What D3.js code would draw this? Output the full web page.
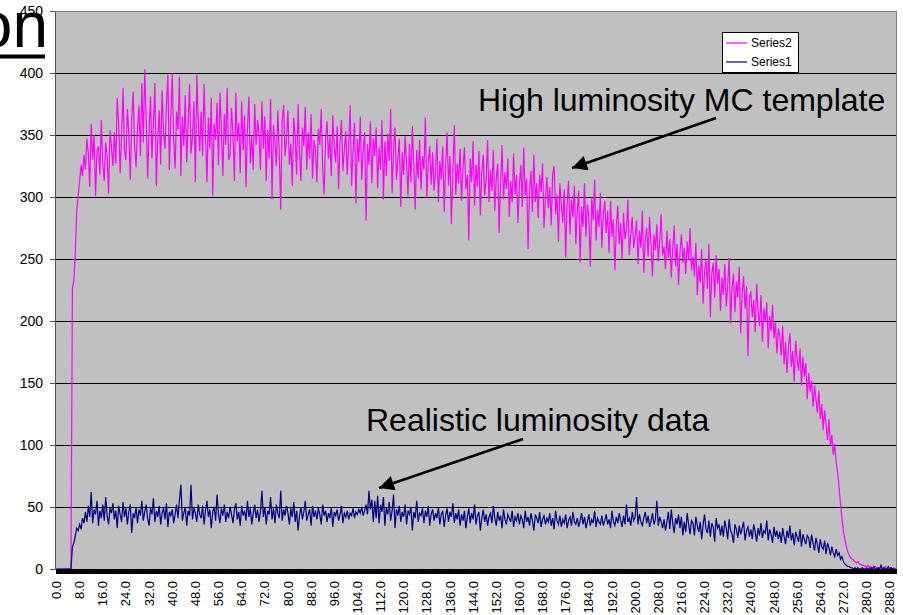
<!DOCTYPE html>
<html>
<head>
<meta charset="utf-8">
<script src="https://d3js.org/d3.v7.min.js"></script>
<style>
  body { margin: 0; background: #fff; }
  text { font-family: "Liberation Sans", Arial, sans-serif; }
</style>
</head>
<body>
<div id="chart"></div>
<script>
// x categories, one every 0.5
var categories = d3.range(0, 581).map(function(i) { return (i / 2).toFixed(1); });

// labelled categories on the x axis
var tickLabels = ["0.0","8.0","16.0","24.0","32.0","40.0","48.0","56.0","64.0","72.0","80.0","88.0",
  "96.0","104.0","112.0","120.0","128.0","136.0","144.0","152.0","160.0","168.0","176.0","184.0",
  "192.0","200.0","208.0","216.0","224.0","232.0","240.0","248.0","256.0","264.0","272.0","280.0","288.0"];

var yTicks = [0, 50, 100, 150, 200, 250, 300, 350, 400, 450];

// Series2 - high luminosity MC template (magenta)
var series2 = [
  0,0,0,0,0,0,0,0,0,0,0,226,233,256,289,301,313,326,317,334,
  322,347,335,308,359,330,350,301,338,341,318,362,327,313,344,333,303,354,340,325,
  352,327,380,358,319,349,388,338,330,371,351,314,362,385,341,324,356,374,333,392,
  344,403,364,315,355,381,331,359,392,309,347,370,326,386,353,339,374,399,322,362,
  400,346,323,369,354,397,317,365,341,382,328,358,391,335,349,377,312,399,361,337,
  369,333,391,352,312,364,339,380,301,359,346,376,326,384,355,317,367,342,388,330,
  334,372,351,313,384,345,360,319,377,338,366,308,355,381,327,349,322,375,342,362,
  350,322,377,339,365,313,354,331,379,298,358,345,325,370,336,290,362,374,333,348,
  370,326,343,309,364,349,318,375,335,313,356,341,373,322,352,331,367,315,346,338,
  312,355,342,371,323,302,347,361,331,349,317,366,340,328,357,306,344,362,321,339,
  353,318,342,374,309,336,360,295,347,328,365,314,338,352,281,343,326,361,311,348,
  333,356,307,340,322,362,298,345,317,351,329,371,303,338,356,314,330,347,292,336,
  318,349,327,301,343,312,357,324,290,338,315,346,306,333,322,364,299,328,341,310,
  336,305,322,347,296,329,314,341,288,325,352,309,333,278,320,358,302,327,311,339,
  297,323,340,306,318,265,331,312,345,293,326,308,337,285,319,334,301,314,346,296,
  322,305,338,289,315,327,271,311,342,298,320,306,331,284,313,296,335,302,318,279,
  309,326,292,340,301,315,258,305,321,288,334,296,311,283,318,304,327,275,299,316,
  291,308,277,318,325,286,302,264,311,294,279,306,251,296,313,270,298,284,309,262,
  288,305,247,292,276,311,268,294,283,244,299,281,314,265,290,276,303,259,286,297,
  271,289,255,297,268,282,241,276,293,262,279,250,287,266,274,298,253,270,284,259,
  268,281,246,273,259,289,239,266,275,252,284,261,236,270,257,278,248,265,286,253,
  260,242,273,251,266,235,258,277,244,262,229,255,270,247,259,238,264,249,275,241,
  252,236,263,221,245,231,258,214,240,249,226,262,203,238,247,219,253,230,242,208,
  235,221,246,212,229,251,198,226,238,207,232,219,244,190,223,236,210,228,172,218,
  224,203,217,191,230,208,196,221,183,210,199,215,178,204,192,213,186,199,174,194,
  188,172,196,165,183,158,179,190,163,176,151,184,169,160,178,148,171,155,166,137,
  158,143,152,131,148,137,126,144,121,133,112,128,116,104,121,99,108,92,101,86,
  78,66,52,41,30,24,18,14,11,9,8,7,6,5,6,4,4,3,3,2,
  2,3,1,2,1,1,2,1,0,1,1,0,1,2,0,1,0,1,0,1,
  0
];

// Series1 - realistic luminosity data (navy)
var series1 = [
  0,0,0,0,0,0,0,0,0,0,0,18,21,27,33,31,36,32,41,37,
  46,38,51,42,62,37,48,44,55,35,47,41,52,39,58,43,36,49,45,53,
  40,47,33,51,44,38,54,42,49,36,46,52,29,45,41,50,37,48,43,55,
  39,46,52,41,35,49,44,57,38,47,42,51,36,45,49,40,53,34,46,43,
  48,37,44,52,41,56,68,39,45,50,35,47,43,68,40,49,45,38,52,44,
  41,51,36,47,55,42,48,33,46,50,39,60,44,37,49,43,52,38,46,41,
  50,44,37,48,53,40,46,35,51,43,47,39,55,42,49,36,45,52,41,48,
  38,46,63,42,50,36,47,44,58,40,49,37,52,45,41,63,39,48,43,51,
  45,36,49,42,54,38,47,31,43,50,40,46,55,39,44,48,35,51,42,47,
  40,49,44,36,52,43,47,38,45,41,50,34,46,43,48,39,44,51,37,45,
  42,47,40,45,43,49,41,46,44,48,45,50,43,47,52,44,63,48,56,38,
  55,41,59,37,52,46,58,35,49,44,54,39,47,60,33,48,43,51,38,46,
  42,52,36,47,44,50,31,46,41,55,38,45,43,49,37,47,42,51,35,44,
  48,39,45,41,50,36,44,47,34,43,49,38,46,42,53,37,45,40,48,35,
  44,39,47,33,42,49,37,45,40,52,36,43,46,31,41,48,38,44,35,42,
  45,37,51,41,35,46,39,43,33,48,40,36,44,41,38,47,34,42,39,45,
  36,43,40,33,47,38,42,35,45,39,31,44,41,37,46,34,40,43,36,41,
  38,45,35,41,32,47,39,36,43,34,40,37,44,33,39,42,35,46,38,36,
  41,34,39,45,36,42,33,38,44,35,40,37,47,34,41,38,36,43,35,39,
  44,36,40,33,47,38,35,42,37,45,39,34,43,36,52,38,41,35,46,39,
  42,58,36,44,38,35,41,46,37,43,34,39,45,36,40,55,35,42,38,33,
  40,31,38,46,32,48,37,29,41,36,44,33,42,27,38,30,45,36,28,39,
  37,27,42,35,30,38,24,36,44,32,29,39,26,37,34,22,41,33,36,27,
  35,26,39,33,24,40,31,28,21,36,32,25,35,28,33,38,23,31,34,26,
  32,24,36,30,22,33,27,37,25,31,29,39,23,32,28,21,34,26,31,24,
  30,21,33,26,20,31,25,35,23,29,19,30,26,22,32,18,28,24,20,27,
  25,17,28,21,15,25,20,13,24,18,16,23,12,21,17,11,18,13,10,16,
  11,13,8,10,6,4,3,2,2,1,1,0,1,0,1,0,0,1,0,0,
  1,0,0,1,0,2,0,0,1,0,3,0,1,0,0,2,0,1,0,0,
  0
];

var width = 903, height = 615;
var plot = {left: 55, top: 11, right: 896, bottom: 569};

var svg = d3.select("#chart").append("svg")
    .attr("width", width)
    .attr("height", height);

// scales
var x = d3.scalePoint().domain(categories).range([56.5, 895.5]);
var y = d3.scaleLinear().domain([0, 450]).range([plot.bottom, plot.top]);

// grey plot area
svg.append("rect")
    .attr("x", plot.left)
    .attr("y", plot.top)
    .attr("width", plot.right - plot.left)
    .attr("height", plot.bottom - plot.top)
    .attr("fill", "#c0c0c0")
    .attr("stroke", "#808080")
    .attr("shape-rendering", "crispEdges");

// gridlines
svg.append("g").selectAll("line")
    .data(yTicks.filter(function(d) { return d > 0 && d < 450; }))
  .enter().append("line")
    .attr("x1", plot.left)
    .attr("x2", plot.right)
    .attr("y1", function(d) { return Math.round(y(d)) + 0.5; })
    .attr("y2", function(d) { return Math.round(y(d)) + 0.5; })
    .attr("stroke", "#000")
    .attr("stroke-width", 1);

// the lines
var line = d3.line()
    .x(function(d, i) { return x(categories[i]); })
    .y(function(d) { return y(d); });

svg.append("path")
    .datum(series2)
    .attr("fill", "none")
    .attr("stroke", "#ff00ff")
    .attr("stroke-width", 1.2)
    .attr("d", line);

svg.append("path")
    .datum(series1)
    .attr("fill", "none")
    .attr("stroke", "#000080")
    .attr("stroke-width", 1.2)
    .attr("d", line);

// x axis: a tick on every category, packed into a black band
var xAxis = svg.append("g")
    .attr("transform", "translate(0," + plot.bottom + ")")
    .call(d3.axisBottom(x).tickValues(categories).tickSize(5).tickSizeOuter(0).tickFormat(""));
xAxis.selectAll("line").attr("stroke", "#000").attr("stroke-width", 2);
xAxis.select(".domain").attr("stroke", "#000");

svg.append("g").selectAll("text")
    .data(tickLabels)
  .enter().append("text")
    .attr("transform", function(d) { return "translate(" + x(d) + ",581) rotate(-90)"; })
    .attr("text-anchor", "end")
    .attr("dy", "0.35em")
    .attr("font-size", 13)
    .attr("fill", "#000")
    .text(function(d) { return d; });

// y axis
var yAxis = svg.append("g")
    .attr("transform", "translate(" + plot.left + ",0)")
    .call(d3.axisLeft(y).tickValues(yTicks).tickSize(5).tickSizeOuter(0).tickPadding(7));
yAxis.select(".domain").attr("stroke", "#555");
yAxis.selectAll("line").attr("stroke", "#555");
yAxis.selectAll("text")
    .attr("font-size", 14)
    .attr("fill", "#000")
    .style("font-family", "'Liberation Sans', Arial, sans-serif");

// legend
var legend = svg.append("g").attr("transform", "translate(722,32)");
legend.append("rect")
    .attr("width", 76)
    .attr("height", 40)
    .attr("fill", "#fff")
    .attr("stroke", "#000")
    .attr("shape-rendering", "crispEdges");
var legendItems = [{name: "Series2", color: "#ff00ff"}, {name: "Series1", color: "#000080"}];
legendItems.forEach(function(s, i) {
  var ly = 11 + i * 19;
  legend.append("line")
      .attr("x1", 4).attr("x2", 25)
      .attr("y1", ly).attr("y2", ly)
      .attr("stroke", s.color)
      .attr("stroke-width", 1.2);
  legend.append("text")
      .attr("x", 29)
      .attr("y", ly)
      .attr("dy", "0.35em")
      .attr("font-size", 12)
      .text(s.name);
});

// annotations
var defs = svg.append("defs");
defs.append("marker")
    .attr("id", "head")
    .attr("viewBox", "0 0 10 10")
    .attr("refX", 10)
    .attr("refY", 5)
    .attr("markerUnits", "userSpaceOnUse")
    .attr("markerWidth", 22)
    .attr("markerHeight", 15)
    .attr("orient", "auto")
  .append("path")
    .attr("d", "M0,0L10,5L0,10z")
    .attr("fill", "#000");

svg.append("text")
    .attr("x", 478)
    .attr("y", 111)
    .attr("font-size", 32)
    .text("High luminosity MC template");
svg.append("line")
    .attr("x1", 716).attr("y1", 118)
    .attr("x2", 572).attr("y2", 168)
    .attr("stroke", "#000")
    .attr("stroke-width", 2.5)
    .attr("marker-end", "url(#head)");

svg.append("text")
    .attr("x", 366)
    .attr("y", 431)
    .attr("font-size", 32)
    .text("Realistic luminosity data");
svg.append("line")
    .attr("x1", 523).attr("y1", 439)
    .attr("x2", 379).attr("y2", 488)
    .attr("stroke", "#000")
    .attr("stroke-width", 2.5)
    .attr("marker-end", "url(#head)");

// leftover of the slide title
svg.append("text")
    .attr("x", 48)
    .attr("y", 47)
    .attr("text-anchor", "end")
    .attr("font-size", 64)
    .text("on");
svg.append("rect")
    .attr("x", 0)
    .attr("y", 54.5)
    .attr("width", 45)
    .attr("height", 4)
    .attr("fill", "#000");
</script>
</body>
</html>
